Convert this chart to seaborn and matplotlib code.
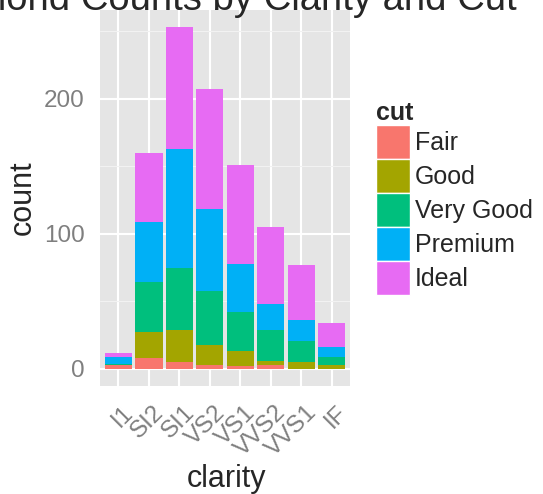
import numpy as np
import pandas as pd
import matplotlib
matplotlib.use("Agg")
import matplotlib.pyplot as plt
import matplotlib.patches as mpatches
import matplotlib.transforms as mtransforms
from matplotlib.ticker import FixedLocator
import seaborn as sns

# counts (diamonds sample, stacked by cut)
clarity = ['I1', 'SI2', 'SI1', 'VS2', 'VS1', 'VVS2', 'VVS1', 'IF']
cuts = ['Fair', 'Good', 'Very Good', 'Premium', 'Ideal']
fair = [3, 8, 5, 3, 2, 3, 0, 0]
good = [0, 19, 24, 15, 11, 3, 5, 3]
very_good = [1, 37, 46, 40, 29, 23, 16, 6]
premium = [5, 45, 88, 60, 36, 19, 15, 7]
ideal = [3, 51, 90, 89, 73, 57, 41, 18]
cut_colors = ['#F8766D', '#A3A500', '#00BF7D', '#00B0F6', '#E76BF3']

sns.set_theme(style='darkgrid')
plt.rcParams['font.family'] = ['Liberation Sans', 'DejaVu Sans']

GREY50 = '#7F7F7F'

fig = plt.figure(figsize=(5.43, 4.94), dpi=100)
ax = fig.add_axes([100 / 543, 1 - 386 / 494, 250 / 543, 376 / 494])
ax.set_facecolor('#E5E5E5')

df = pd.DataFrame({'clarity': clarity, 'Fair': fair, 'Good': good,
                   'Very Good': very_good, 'Premium': premium, 'Ideal': ideal})
cum = df[cuts].cumsum(axis=1)

# draw cumulative totals from the top down so each layer shows its own segment
for cut, col in reversed(list(zip(cuts, cut_colors))):
    sns.barplot(x=df['clarity'], y=cum[cut], order=clarity, color=col,
                saturation=1, width=0.9, linewidth=0, errorbar=None, ax=ax)

ax.set_xlim(-0.6, 7.6)
ax.set_ylim(-12.65, 265.65)
ax.set_yticks([0, 100, 200])
ax.yaxis.set_minor_locator(FixedLocator([50, 150, 250]))
ax.set_axisbelow(True)
ax.grid(which='major', color='white', linewidth=1.5)
ax.grid(which='minor', axis='y', color='#F2F2F2', linewidth=0.8)
ax.grid(which='minor', axis='x', visible=False)
for s in ax.spines.values():
    s.set_visible(False)

ax.tick_params(which='major', length=6, width=1.1, color=GREY50,
               labelcolor=GREY50, labelsize=17.5)
ax.tick_params(axis='y', pad=5)
ax.tick_params(axis='x', pad=5)
ax.tick_params(which='minor', length=0)
shift = mtransforms.ScaledTranslation(4 / 100, 0, fig.dpi_scale_trans)
for lbl in ax.get_xticklabels():
    lbl.set_rotation(45)
    lbl.set_ha('right')
    lbl.set_va('top')
    lbl.set_rotation_mode('anchor')
    lbl.set_transform(lbl.get_transform() + shift)

ax.set_xlabel('')
ax.set_ylabel('')
fig.text(227 / 543, 1 - 487 / 494, 'clarity', fontsize=22, ha='center', va='baseline')
fig.text(23 / 543, 1 - 198 / 494, 'count', fontsize=22, rotation=90, ha='center', va='center')
fig.text(217 / 543, 1 - 9.5 / 494, 'Diamond Counts by Clarity and Cut', fontsize=27.5,
         ha='center', va='baseline')

handles = [mpatches.Patch(facecolor=c, edgecolor='white', linewidth=1, label=n)
           for n, c in zip(cuts, cut_colors)]
leg = fig.legend(handles=handles, title='cut', loc='upper left',
                 bbox_to_anchor=(376 / 543, 1 - 101 / 494), frameon=False,
                 fontsize=18, title_fontproperties={'weight': 'bold', 'size': 18},
                 handlelength=1.36, handleheight=1.717, labelspacing=0.0,
                 handletextpad=0.2, borderpad=0, borderaxespad=0, alignment='left')

fig.savefig('out.png', dpi=100)
